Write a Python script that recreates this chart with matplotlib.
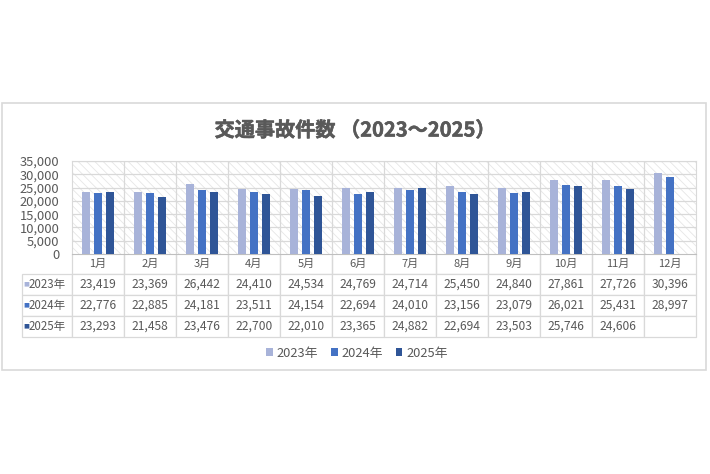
import matplotlib
matplotlib.use('Agg')
import matplotlib.pyplot as plt
import matplotlib.patheffects as pe
import numpy as np
from matplotlib.patches import Rectangle, Patch

plt.rcParams['font.family'] = ['Noto Sans CJK JP', 'DejaVu Sans']
plt.rcParams['hatch.linewidth'] = 0.6

# monthly traffic accident counts
MONTHS = ['1月', '2月', '3月', '4月', '5月', '6月', '7月', '8月', '9月', '10月', '11月', '12月']
YEARS = ['2023年', '2024年', '2025年']
counts_2023 = [23419, 23369, 26442, 24410, 24534, 24769, 24714, 25450, 24840, 27861, 27726, 30396]
counts_2024 = [22776, 22885, 24181, 23511, 24154, 22694, 24010, 23156, 23079, 26021, 25431, 28997]
counts_2025 = [23293, 21458, 23476, 22700, 22010, 23365, 24882, 22694, 23503, 25746, 24606, None]
COLORS = ['#A8B3D9', '#4472C4', '#2F5597']

TEXT = '#595959'
GRID = '#D9D9D9'

W, H = 710, 474
fig = plt.figure(figsize=(W / 100, H / 100), dpi=100)

# outer chart border
fig.patches.append(Rectangle((2 / W, 1 - 370 / H), 704 / W, 267 / H, transform=fig.transFigure,
                             fill=False, edgecolor=GRID, linewidth=1.2))

left, right, top, bottom = 72, 696, 161, 254
ax = fig.add_axes([left / W, 1 - bottom / H, (right - left) / W, (bottom - top) / H])

# hatched plot area background
ax.add_patch(Rectangle((0, 0), 1, 1, transform=ax.transAxes, facecolor='white',
                       edgecolor='#E6E6E6', hatch=r'\\\\', linewidth=0, zorder=0))

x = np.arange(len(MONTHS))
width = 0.155
offset = 0.222
series = [counts_2023, counts_2024, counts_2025]
for i, (vals, c) in enumerate(zip(series, COLORS)):
    v = np.array([np.nan if a is None else a for a in vals], dtype=float)
    ax.bar(x + (i - 1) * offset, v, width, color=c, zorder=3, label=YEARS[i])

ax.set_xlim(-0.5, len(MONTHS) - 0.5)
ax.set_ylim(0, 35000)
ax.set_yticks(np.arange(0, 35001, 5000))
ax.set_yticklabels([f'{t:,}' for t in range(0, 35001, 5000)], fontsize=9.3, color=TEXT)
ax.set_xticks([])
ax.tick_params(axis='y', length=0, pad=9)
for t in ax.get_yticks()[1:]:
    ax.axhline(t, color=GRID, linewidth=0.9, zorder=1)
for xv in x[:-1] + 0.5:
    ax.axvline(xv, color=GRID, linewidth=0.9, zorder=1)
for s in ['left', 'top', 'right']:
    ax.spines[s].set_color(GRID)
ax.spines['bottom'].set_color('#BFBFBF')

# data table below the chart
cell_text = []
for yr, vals in zip(YEARS, series):
    cell_text.append([yr] + ['' if v is None else f'{v:,}' for v in vals])
col_labels = [''] + MONTHS
tw = 696 - 22
col_w = [50 / tw] + [52 / tw] * 12
tbl_h = (337 - 254) / (bottom - top)
tbl = ax.table(cellText=cell_text, colLabels=col_labels, colWidths=col_w,
               cellLoc='center', bbox=[(22 - left) / (right - left), -tbl_h, tw / (right - left), tbl_h])
tbl.auto_set_font_size(False)
for (r, c), cell in tbl.get_celld().items():
    cell.set_edgecolor(GRID)
    cell.set_linewidth(0.9)
    cell.get_text().set_color(TEXT)
    if r == 0:
        cell.set_height(20 / 83)
        cell.get_text().set_fontsize(8)
        cell.visible_edges = '' if c == 0 else 'BLR'
    else:
        cell.set_height(21 / 83)
        cell.get_text().set_fontsize(8.7)
        if c == 0:
            cell.get_text().set_fontsize(8.3)
            cell._loc = 'left'
            cell.PAD = 0.2

# colored squares next to row labels
for i, c in enumerate(COLORS):
    yc = 1 - (284 + 21 * i) / H
    fig.text(26 / W, yc, '■', color=c, fontsize=4.5, ha='center', va='center',
             family=['DejaVu Sans'])

fig.text(355 / W, 1 - 130 / H, '交通事故件数 （2023～2025）', fontsize=14.5, fontweight='bold',
         color=TEXT, ha='center', va='center',
         path_effects=[pe.withStroke(linewidth=0.4, foreground=TEXT)])

handles = [Patch(facecolor=c, label=yr) for c, yr in zip(COLORS, YEARS)]
leg = fig.legend(handles=handles, loc='center', bbox_to_anchor=(357 / W, 1 - 353 / H), ncol=3,
                 frameon=False, fontsize=9.3, handlelength=0.5, handleheight=0.5,
                 handletextpad=0.3, columnspacing=1.0)
for t in leg.get_texts():
    t.set_color(TEXT)

fig.savefig('out.png', dpi=100)
